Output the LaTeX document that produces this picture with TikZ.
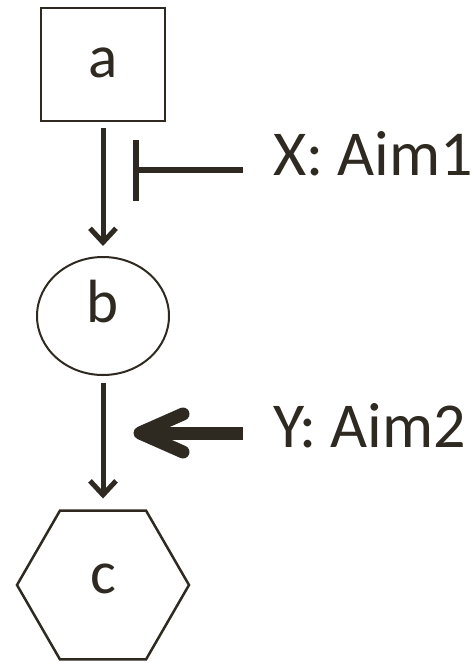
\documentclass[tikz,border=0pt]{standalone}
\usepackage{fontspec}
\setmainfont{Carlito}
\usetikzlibrary{arrows.meta,shapes.geometric}
\definecolor{ink}{RGB}{46,42,33}

\begin{document}
\begin{tikzpicture}[x=1pt,y=-1pt,
every node/.style={text=ink, font=\fontsize{61}{72}\selectfont, outer sep=0pt},
square/.style={rectangle, draw=ink, line width=2pt, minimum width=124pt, minimum height=113pt, inner sep=0pt, text height=26pt, text depth=0pt},
oval/.style={ellipse, draw=ink, line width=2pt, minimum width=132pt, minimum height=118pt, inner sep=0pt, text height=42pt, text depth=30pt},
hexa/.style={regular polygon, regular polygon sides=6, draw=ink, line width=2.5pt, minimum size=172pt, inner sep=0pt, text height=28pt, text depth=12pt},
aim/.style={anchor=base west, inner sep=0pt, font=\fontsize{64}{76}\selectfont},
flow/.style={draw=ink, line width=5pt, -{Straight Barb[length=14pt,width=26pt]}},
inhib/.style={draw=ink, line width=6pt, -{Bar[width=61pt]}},
push/.style={draw=ink, line width=13pt, line cap=round, line join=round}
]
\useasboundingbox (0,0) rectangle (473,664);

% main chain
\node[square] (a) at (103,64) {a};
\node[oval] (b) at (103,316) {b};
\node[hexa] (c) at (103,585) {c};

\draw[flow, shorten <=7.5pt, shorten >=11pt] (a) -- (b);
\draw[flow, shorten <=8pt, shorten >=12pt] (b) -- (c);

% side influences
\node[aim] (X) at (273,175) {X: Aim1};
\node[aim] (Y) at (273,447) {Y: Aim2};
\coordinate (Xin) at (133,170);
\coordinate (Yin) at (140,433);

\draw[inhib] (X.base west) ++(-30,-5) -- (Xin);
\draw[push, line cap=butt] (Y.base west) ++(-30,-14) -- (Yin);
\draw[push] (Yin) ++(43,-19) -- (Yin) -- ++(43,19);

\end{tikzpicture}
\end{document}
